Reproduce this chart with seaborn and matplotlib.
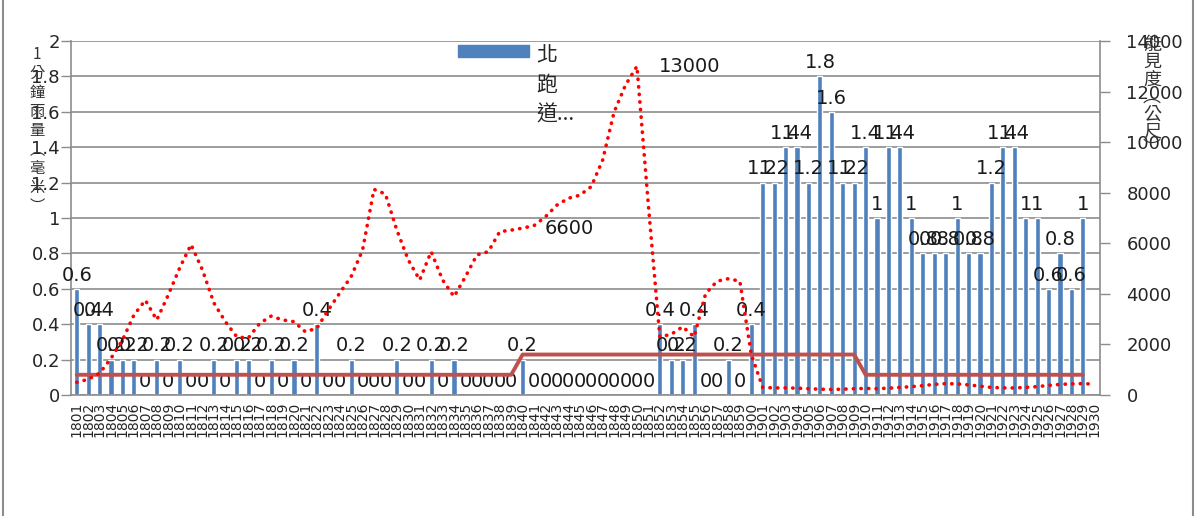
import matplotlib
matplotlib.use("Agg")
import matplotlib.pyplot as plt
from matplotlib.patches import Patch, Rectangle
from matplotlib.ticker import FuncFormatter, FixedLocator
import numpy as np
import pandas as pd
import seaborn as sns

sns.set_theme(style="white")
plt.rcParams['font.family'] = ['DejaVu Sans', 'Noto Sans CJK TC']

# time of day (hhmm), one category per minute
times = [f"18{m:02d}" for m in range(1, 60)] + [f"19{m:02d}" for m in range(0, 31)]

# 1-minute rainfall, north runway (mm); 1930 has no value
rain = [0.6, 0.4, 0.4, 0.2, 0.2, 0.2, 0, 0.2, 0, 0.2,
        0, 0, 0.2, 0, 0.2, 0.2, 0, 0.2, 0, 0.2,
        0, 0.4, 0, 0, 0.2, 0, 0, 0, 0.2, 0,
        0, 0.2, 0, 0.2, 0, 0, 0, 0, 0, 0.2,
        0, 0, 0, 0, 0, 0, 0, 0, 0, 0,
        0, 0.4, 0.2, 0.2, 0.4, 0, 0, 0.2, 0, 0.4,
        1.2, 1.2, 1.4, 1.4, 1.2, 1.8, 1.6, 1.2, 1.2, 1.4,
        1.0, 1.4, 1.4, 1.0, 0.8, 0.8, 0.8, 1.0, 0.8, 0.8,
        1.2, 1.4, 1.4, 1.0, 1.0, 0.6, 0.8, 0.6, 1.0, np.nan]

# visibility (m), dotted red line
visibility = [500, 620, 860, 1450, 2170, 3160, 3750, 2970, 3950, 5020,
              5950, 4940, 3640, 2900, 2300, 2250, 2830, 3120, 2970, 2900,
              2500, 2640, 3360, 4030, 4680, 5730, 8130, 7950, 6520, 5340,
              4550, 5670, 4550, 3890, 4680, 5540, 5670, 6460, 6520, 6600,
              6700, 7050, 7510, 7780, 7900, 8240, 9290, 11190, 12260, 13000,
              7500, 2300, 2400, 2700, 2300, 4000, 4500, 4600, 4500, 1600,
              300, 280, 280, 270, 250, 230, 220, 230, 250, 260,
              250, 270, 300, 330, 370, 420, 450, 440, 400, 350,
              300, 280, 280, 300, 330, 380, 420, 440, 450, 430]

# threshold line (m), solid dark red
threshold = [800, 800, 800, 800, 800, 800, 800, 800, 800, 800,
             800, 800, 800, 800, 800, 800, 800, 800, 800, 800,
             800, 800, 800, 800, 800, 800, 800, 800, 800, 800,
             800, 800, 800, 800, 800, 800, 800, 800, 800, 1600,
             1600, 1600, 1600, 1600, 1600, 1600, 1600, 1600, 1600, 1600,
             1600, 1600, 1600, 1600, 1600, 1600, 1600, 1600, 1600, 1600,
             1600, 1600, 1600, 1600, 1600, 1600, 1600, 1600, 1600, 800,
             800, 800, 800, 800, 800, 800, 800, 800, 800, 800,
             800, 800, 800, 800, 800, 800, 800, 800, 800, np.nan]

labelled_points = {"13000": 49, "6600": 39}

left_title = "1分鐘雨量︵毫米︶"
right_title = "能見度︵公尺︶"
legend_label = "北\n跑\n道..."

df = pd.DataFrame({"time": times, "rain": rain,
                   "visibility": visibility, "threshold": threshold})
df["pos"] = np.arange(len(df))

fig = plt.figure(figsize=(12.03, 5.16), dpi=100)
ax = fig.add_axes([71 / 1203, 1 - 395 / 516, (1100 - 71) / 1203, (395 - 41) / 516])

sns.barplot(data=df, x="time", y="rain", order=times, color="#4F81BD",
            saturation=1, width=0.45, errorbar=None, ax=ax, zorder=2)

for i, v in enumerate(rain):
    if not np.isnan(v):
        ax.annotate(f"{v:g}", (i, v), xytext=(0, 3), textcoords="offset points",
                    ha="center", va="bottom", fontsize=14, color="#1a1a1a", zorder=5)

ax.set_ylim(0, 2)
ax.set_xlim(-0.5, len(times) - 0.5)
ax.set_yticks(np.arange(0, 2.01, 0.2))
ax.yaxis.set_major_formatter(FuncFormatter(lambda v, p: f"{v:g}"))
ax.yaxis.grid(True, color="#8c8c8c", lw=1.2)
ax.set_axisbelow(True)
ax.set_xticks(range(len(times)))
ax.set_xticklabels(times, rotation=90, fontsize=10)
ax.xaxis.set_minor_locator(FixedLocator(np.arange(-0.5, len(times), 1)))
ax.tick_params(axis="x", which="major", length=0, pad=5)
ax.tick_params(axis="x", which="minor", length=5, color="#8c8c8c", width=1)
ax.tick_params(axis="y", length=7, color="#8c8c8c", width=1, labelsize=13, pad=1)
ax.set_xlabel("")
ax.set_ylabel("")
for s in ["top", "right"]:
    ax.spines[s].set_visible(False)
for s in ["left", "bottom"]:
    ax.spines[s].set_color("#8c8c8c")
    ax.spines[s].set_linewidth(1.2)

ax2 = ax.twinx()
sns.lineplot(data=df, x="pos", y="threshold", ax=ax2, color="#C0504D", lw=2.8)
sns.lineplot(data=df, x="pos", y="visibility", ax=ax2, color="#FF0000", lw=2.6,
             linestyle=(0, (0.1, 2.0)), dash_capstyle="round")
for txt, i in labelled_points.items():
    ax2.annotate(txt, (i, visibility[i]), xytext=(16, 0), textcoords="offset points",
                 ha="left", va="center", fontsize=14, color="#1a1a1a")
ax2.set_ylim(0, 14000)
ax2.set_yticks(np.arange(0, 14001, 2000))
ax2.set_xlim(-0.5, len(times) - 0.5)
ax2.set_xlabel("")
ax2.set_ylabel("")
ax2.tick_params(axis="y", length=7, color="#8c8c8c", width=1, labelsize=13, pad=12)
for s in ["top", "left", "bottom"]:
    ax2.spines[s].set_visible(False)
ax2.spines["right"].set_color("#8c8c8c")
ax2.spines["right"].set_linewidth(1.2)

leg = ax.legend(handles=[Patch(color="#4F81BD")], labels=[legend_label],
                loc="upper left", bbox_to_anchor=(0.376, 0.99), frameon=False,
                borderaxespad=0, borderpad=0,
                handlelength=3.4, handleheight=0.55, handletextpad=0.35,
                prop={"family": ["Noto Sans CJK TC"], "size": 15})
leg.get_texts()[0].set_linespacing(1.45)
# put the colour patch level with the first line of the wrapped label
for column in leg._legend_handle_box.get_children():
    for item in column.get_children():
        item.align = "top"

fig.text(37 / 1203, 1 - 46 / 516, "\n".join(left_title), ha="center", va="top",
         fontsize=11, linespacing=1.15, family=["Noto Sans CJK TC", "DejaVu Sans"], color="#333333")
fig.text(1152 / 1203, 1 - 36 / 516, "\n".join(right_title), ha="center", va="top",
         fontsize=13, linespacing=0.95, family=["Noto Sans CJK TC", "DejaVu Sans"], color="#333333")

fig.patches.append(Rectangle((3 / 1203, -0.01), 1190 / 1203, 1.02, transform=fig.transFigure,
                             fill=False, edgecolor="#8c8c8c", lw=1.5))

fig.savefig("out.png", dpi=100)
